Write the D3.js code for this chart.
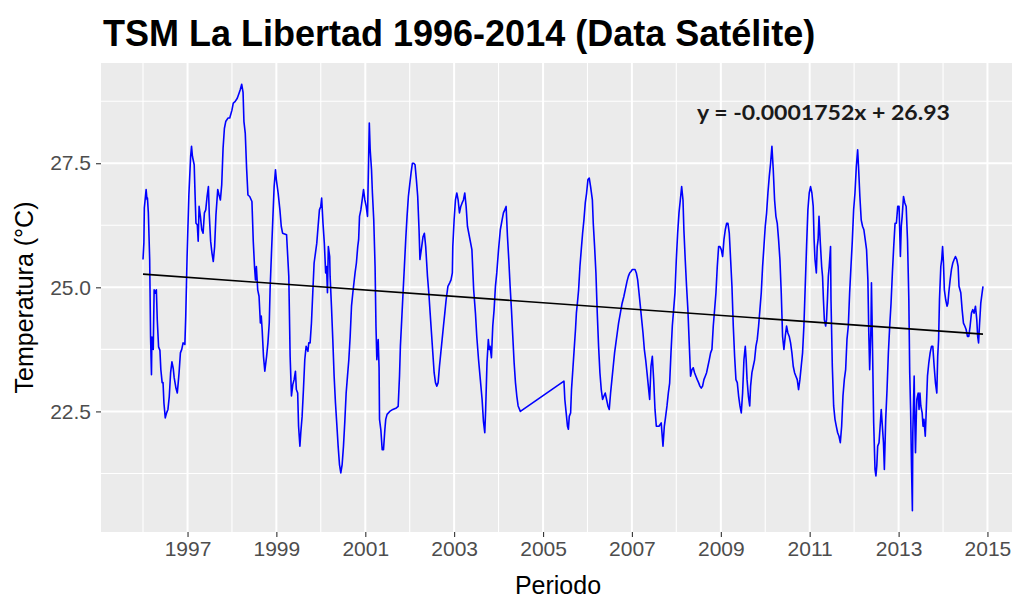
<!DOCTYPE html>
<html>
<head>
<meta charset="utf-8">
<script src="https://cdn.jsdelivr.net/npm/d3@7.9.0/dist/d3.min.js"></script>
<style>
  body { margin: 0; background: #fff; }
  svg { display: block; }
</style>
</head>
<body>
<svg id="chart" width="1012" height="598"></svg>
<script>
const periodo = [
  1996.00, 1996.02, 1996.03, 1996.07, 1996.09, 1996.10, 1996.12, 1996.15, 1996.17, 1996.19, 1996.20, 1996.23,
  1996.25, 1996.28, 1996.30, 1996.32, 1996.35, 1996.38, 1996.40, 1996.43, 1996.45, 1996.47, 1996.50, 1996.53,
  1996.56, 1996.59, 1996.62, 1996.65, 1996.68, 1996.70, 1996.74, 1996.77, 1996.79, 1996.81, 1996.84, 1996.87,
  1996.90, 1996.94, 1996.96, 1996.99,
  1997.03, 1997.07, 1997.09, 1997.11, 1997.15, 1997.17, 1997.19, 1997.22, 1997.24, 1997.26, 1997.29, 1997.32,
  1997.35, 1997.38, 1997.41, 1997.44, 1997.47, 1997.49, 1997.52, 1997.55, 1997.58, 1997.61, 1997.64, 1997.68,
  1997.71, 1997.74, 1997.77, 1997.80, 1997.83, 1997.86, 1997.91, 1997.95,
  1998.00, 1998.03, 1998.07, 1998.12, 1998.16, 1998.19, 1998.22, 1998.25, 1998.27, 1998.30, 1998.33, 1998.36,
  1998.40, 1998.45, 1998.48, 1998.51, 1998.53, 1998.55, 1998.58, 1998.61, 1998.64, 1998.66, 1998.68, 1998.71,
  1998.74, 1998.78, 1998.81, 1998.84, 1998.86, 1998.89, 1998.92, 1998.95, 1998.98,
  1999.00, 1999.04, 1999.08, 1999.11, 1999.14, 1999.23, 1999.28, 1999.31, 1999.34, 1999.37, 1999.40, 1999.43,
  1999.45, 1999.48, 1999.50, 1999.53, 1999.55, 1999.58, 1999.61, 1999.64, 1999.67, 1999.71, 1999.73, 1999.76,
  1999.79, 1999.82, 1999.85, 1999.88, 1999.91, 1999.94, 1999.97,
  2000.00, 2000.02, 2000.05, 2000.08, 2000.11, 2000.13, 2000.15, 2000.17, 2000.20, 2000.21, 2000.24, 2000.27,
  2000.30, 2000.33, 2000.36, 2000.39, 2000.42, 2000.45, 2000.48, 2000.51, 2000.54, 2000.57, 2000.60, 2000.63,
  2000.66, 2000.69, 2000.72, 2000.77, 2000.80, 2000.83, 2000.85, 2000.87, 2000.90, 2000.93, 2000.96, 2000.99,
  2001.02, 2001.05, 2001.07, 2001.09, 2001.11, 2001.14, 2001.16, 2001.19, 2001.22, 2001.24, 2001.26, 2001.29,
  2001.31, 2001.32, 2001.35, 2001.38, 2001.41, 2001.44, 2001.46, 2001.49, 2001.55, 2001.62, 2001.70, 2001.74,
  2001.77, 2001.79, 2001.82, 2001.85, 2001.88, 2001.91, 2001.94, 2001.97,
  2002.00, 2002.03, 2002.06, 2002.09, 2002.12, 2002.15, 2002.18, 2002.21, 2002.23, 2002.25, 2002.27, 2002.30,
  2002.33, 2002.36, 2002.38, 2002.40, 2002.43, 2002.46, 2002.49, 2002.52, 2002.55, 2002.58, 2002.61, 2002.64,
  2002.67, 2002.70, 2002.73, 2002.76, 2002.79, 2002.82, 2002.86, 2002.90, 2002.93, 2002.96, 2002.97,
  2003.00, 2003.03, 2003.06, 2003.09, 2003.12, 2003.15, 2003.18, 2003.21, 2003.24, 2003.27, 2003.30, 2003.40,
  2003.44, 2003.48, 2003.51, 2003.55, 2003.59, 2003.63, 2003.66, 2003.69, 2003.71, 2003.74, 2003.77, 2003.79,
  2003.81, 2003.84, 2003.87, 2003.90, 2003.93, 2003.96,
  2004.00, 2004.04, 2004.08, 2004.11, 2004.14, 2004.17, 2004.20, 2004.23, 2004.26, 2004.29, 2004.32, 2004.35,
  2004.38, 2004.41, 2004.44, 2004.49,
  2005.47, 2005.49, 2005.52, 2005.55, 2005.57, 2005.59, 2005.62, 2005.64, 2005.67, 2005.70, 2005.73, 2005.75,
  2005.78, 2005.80, 2005.83, 2005.86, 2005.89, 2005.92, 2005.95, 2005.98,
  2006.01, 2006.04, 2006.07, 2006.11, 2006.13, 2006.16, 2006.19, 2006.22, 2006.25, 2006.28, 2006.31, 2006.34,
  2006.37, 2006.40, 2006.43, 2006.46, 2006.49, 2006.52, 2006.55, 2006.58, 2006.61, 2006.64, 2006.67, 2006.70,
  2006.74, 2006.78, 2006.82, 2006.85, 2006.89, 2006.92, 2006.95, 2006.98,
  2007.01, 2007.07, 2007.10, 2007.13, 2007.16, 2007.19, 2007.22, 2007.25, 2007.28, 2007.31, 2007.34, 2007.37,
  2007.40, 2007.43, 2007.46, 2007.49, 2007.52, 2007.55, 2007.61, 2007.66, 2007.70, 2007.73, 2007.76, 2007.79,
  2007.82, 2007.85, 2007.88, 2007.91, 2007.94, 2007.97,
  2008.00, 2008.03, 2008.06, 2008.09, 2008.12, 2008.15, 2008.17, 2008.20, 2008.23, 2008.26, 2008.29, 2008.32,
  2008.35, 2008.38, 2008.41, 2008.44, 2008.47, 2008.50, 2008.53, 2008.56, 2008.59, 2008.62, 2008.65, 2008.68,
  2008.71, 2008.74, 2008.77, 2008.80, 2008.83, 2008.86, 2008.89, 2008.92, 2008.95, 2008.98,
  2009.01, 2009.04, 2009.07, 2009.10, 2009.13, 2009.16, 2009.19, 2009.22, 2009.25, 2009.28, 2009.31, 2009.34,
  2009.37, 2009.40, 2009.43, 2009.46, 2009.49, 2009.52, 2009.55, 2009.57, 2009.59, 2009.62, 2009.65, 2009.67,
  2009.70, 2009.73, 2009.76, 2009.79, 2009.82, 2009.85, 2009.88, 2009.91, 2009.94, 2009.97,
  2010.00, 2010.03, 2010.06, 2010.09, 2010.12, 2010.15, 2010.18, 2010.21, 2010.24, 2010.27, 2010.30, 2010.33,
  2010.36, 2010.39, 2010.42, 2010.45, 2010.48, 2010.51, 2010.54, 2010.57, 2010.60, 2010.63, 2010.66, 2010.69,
  2010.72, 2010.75, 2010.78, 2010.81, 2010.84, 2010.87, 2010.90, 2010.93, 2010.96, 2010.99,
  2011.02, 2011.05, 2011.08, 2011.10, 2011.12, 2011.15, 2011.17, 2011.19, 2011.21, 2011.24, 2011.27, 2011.29,
  2011.31, 2011.33, 2011.36, 2011.38, 2011.40, 2011.42, 2011.44, 2011.47, 2011.48, 2011.51, 2011.54, 2011.57,
  2011.60, 2011.63, 2011.66, 2011.69, 2011.72, 2011.75, 2011.78, 2011.81, 2011.84, 2011.87, 2011.90, 2011.93,
  2011.96, 2011.99,
  2012.02, 2012.05, 2012.08, 2012.10, 2012.13, 2012.16, 2012.19, 2012.22, 2012.25, 2012.28, 2012.31, 2012.33,
  2012.35, 2012.38, 2012.39, 2012.41, 2012.44, 2012.47, 2012.49, 2012.51, 2012.53, 2012.56, 2012.59, 2012.61,
  2012.63, 2012.66, 2012.68, 2012.71, 2012.74, 2012.77, 2012.80, 2012.83, 2012.86, 2012.89, 2012.92, 2012.95,
  2012.98,
  2013.01, 2013.04, 2013.06, 2013.08, 2013.11, 2013.14, 2013.17, 2013.20, 2013.23, 2013.25, 2013.27, 2013.29,
  2013.31, 2013.32, 2013.35, 2013.36, 2013.38, 2013.40, 2013.41, 2013.44, 2013.46, 2013.48, 2013.50, 2013.53,
  2013.55, 2013.57, 2013.60, 2013.62, 2013.65, 2013.68, 2013.71, 2013.74, 2013.77, 2013.80, 2013.83, 2013.86,
  2013.88, 2013.90, 2013.92, 2013.95, 2013.97, 2013.99,
  2014.01, 2014.03, 2014.06, 2014.09, 2014.11, 2014.13, 2014.16, 2014.19, 2014.22, 2014.25, 2014.28, 2014.31,
  2014.34, 2014.36, 2014.40, 2014.43, 2014.46, 2014.49, 2014.52, 2014.55, 2014.58, 2014.61, 2014.64, 2014.67,
  2014.70, 2014.73, 2014.76, 2014.78, 2014.80, 2014.82, 2014.85, 2014.88, 2014.90
];

const tsm = [
  25.56, 25.90, 26.60, 26.97, 26.77, 26.80, 26.50, 25.56, 24.00, 23.24, 24.00, 23.75,
  24.95, 24.88, 24.95, 24.35, 23.80, 23.73, 23.35, 23.08, 23.08, 22.67, 22.37, 22.47,
  22.54, 22.80, 23.28, 23.50, 23.36, 23.18, 22.97, 22.87, 23.07, 23.28, 23.68, 23.75,
  23.88, 23.85, 24.42, 25.62,
  26.86, 27.64, 27.84, 27.64, 27.47, 26.86, 26.29, 26.26, 25.93, 26.63, 26.43, 26.16,
  26.09, 26.50, 26.56, 26.83, 27.03, 26.46, 25.93, 25.69, 25.52, 25.82, 26.46, 26.97,
  26.86, 26.76, 27.07, 27.80, 28.20, 28.34, 28.41, 28.41,
  28.57, 28.71, 28.74, 28.81, 28.91, 28.99, 29.09, 28.93, 28.34, 28.10, 27.40, 26.86,
  26.83, 26.73, 25.93, 25.39, 25.15, 25.42, 24.95, 24.82, 24.28, 24.42, 24.15, 23.61,
  23.31, 23.61, 23.88, 24.28, 24.99, 25.69, 26.36, 27.03, 27.37,
  27.17, 26.90, 26.56, 26.23, 26.09, 26.06, 25.22, 23.61, 22.81, 23.04, 23.14, 23.31,
  22.94, 22.87, 22.20, 21.80, 22.07, 22.40, 22.94, 23.54, 23.81, 23.71, 23.88, 23.88,
  24.28, 24.89, 25.49, 25.69, 25.89, 26.23, 26.56,
  26.63, 26.80, 26.29, 25.89, 25.29, 25.42, 24.89, 25.82, 25.62, 25.22, 24.62, 23.95,
  23.21, 22.67, 22.24, 21.80, 21.43, 21.26, 21.43, 21.80, 22.30, 22.87, 23.21, 23.54,
  24.01, 24.62, 24.89, 25.29, 25.49, 25.82, 25.96, 26.43, 26.56, 26.76, 26.97, 26.76,
  26.63, 26.43, 27.37, 28.31, 27.77, 27.37, 26.90, 26.36, 25.42, 24.22, 23.54, 23.95,
  23.38, 22.34, 22.13, 21.73, 21.73, 22.13, 22.34, 22.44, 22.50, 22.54, 22.57, 22.60,
  23.21, 23.81, 24.35, 24.89, 25.42, 25.96, 26.43, 26.83,
  27.07, 27.30, 27.50, 27.50, 27.47, 27.17, 26.83, 26.16, 25.56, 25.69, 25.82, 26.02,
  26.09, 25.82, 25.52, 25.22, 24.89, 24.48, 24.08, 23.68, 23.28, 23.08, 23.01, 23.08,
  23.41, 23.68, 23.95, 24.22, 24.48, 24.75, 25.02, 25.09, 25.15, 25.29, 25.82,
  26.36, 26.76, 26.90, 26.76, 26.50, 26.63, 26.70, 26.76, 26.90, 26.63, 26.23, 25.76,
  24.95, 24.48, 24.01, 23.54, 23.14, 22.74, 22.30, 22.07, 22.54, 23.48, 23.95, 23.75,
  23.81, 23.58, 24.22, 24.55, 25.02, 25.29,
  25.76, 26.16, 26.36, 26.50, 26.56, 26.63, 26.03, 25.56, 25.02, 24.55, 24.01, 23.48,
  23.08, 22.81, 22.61, 22.50,
  23.11, 22.74, 22.47, 22.20, 22.14, 22.40, 22.47, 22.94, 23.34, 23.75, 24.15, 24.48,
  24.75, 24.95, 25.42, 25.76, 26.09, 26.36, 26.70, 26.90,
  27.17, 27.20, 27.03, 26.76, 26.29, 25.82, 25.29, 24.48, 23.81, 23.28, 22.94, 22.74,
  22.81, 22.87, 22.74, 22.61, 22.54, 22.87, 23.14, 23.41, 23.68, 23.88, 24.08, 24.28,
  24.48, 24.68, 24.82, 24.95, 25.12, 25.22, 25.29, 25.32,
  25.36, 25.36, 25.29, 25.15, 24.89, 24.62, 24.35, 24.08, 23.75, 23.54, 23.28, 23.01,
  22.74, 23.41, 23.61, 23.14, 22.54, 22.20, 22.20, 22.27, 21.80, 22.20, 22.40, 22.61,
  22.87, 23.07, 23.68, 24.22, 24.55, 24.89,
  25.56, 26.09, 26.50, 26.76, 27.03, 26.76, 26.16, 25.56, 25.02, 24.55, 23.88, 23.21,
  23.34, 23.38, 23.28, 23.21, 23.14, 23.08, 23.01, 22.97, 23.01, 23.14, 23.21, 23.28,
  23.41, 23.54, 23.68, 23.75, 24.22, 24.55, 24.89, 25.42, 25.82, 25.82,
  25.76, 25.62, 25.96, 26.16, 26.29, 26.29, 26.09, 25.56, 25.02, 24.22, 23.61, 23.14,
  23.08, 22.81, 22.61, 22.47, 22.87, 23.54, 23.81, 23.54, 23.14, 22.81, 22.61, 23.01,
  23.28, 23.41, 23.54, 23.81, 23.95, 24.22, 24.55, 24.89, 25.42, 25.82,
  26.23, 26.50, 26.90, 27.23, 27.50, 27.84, 27.37, 26.76, 26.43, 26.29, 25.96, 25.56,
  24.89, 24.01, 23.75, 24.01, 24.22, 24.08, 24.01, 23.88, 23.68, 23.41, 23.28, 23.21,
  23.14, 22.94, 23.14, 23.41, 23.68, 24.22, 25.02, 25.82, 26.56, 26.90,
  27.03, 26.90, 26.63, 25.96, 25.56, 25.29, 25.82, 25.96, 26.43, 25.89, 25.42, 25.22,
  24.75, 24.35, 24.22, 24.35, 24.75, 25.22, 25.42, 25.82, 24.75, 23.41, 22.61, 22.34,
  22.20, 22.07, 22.00, 21.87, 22.20, 22.81, 23.14, 23.34, 23.95, 24.22, 24.89, 25.42,
  25.93, 26.56,
  26.90, 27.43, 27.77, 27.43, 26.83, 26.36, 26.23, 26.16, 25.96, 25.76, 25.15, 24.08,
  23.34, 24.22, 25.09, 24.01, 22.27, 21.33, 21.20, 21.40, 21.80, 21.87, 22.27, 22.54,
  22.27, 21.87, 21.33, 22.34, 22.94, 23.68, 24.22, 24.68, 25.29, 25.82, 26.29, 26.29,
  26.63,
  26.63, 25.62, 26.23, 26.43, 26.83, 26.70, 26.63, 25.96, 24.75, 23.28, 22.54, 21.40,
  20.50, 22.07, 23.21, 22.54, 21.67, 22.47, 22.74, 22.87, 22.54, 22.87, 22.61, 22.47,
  22.20, 22.34, 22.00, 22.47, 23.21, 23.48, 23.68, 23.81, 23.81, 23.41, 23.07, 22.87,
  23.61, 23.95, 24.75, 25.42, 25.56, 25.82,
  25.49, 24.95, 24.75, 24.62, 24.68, 24.89, 25.15, 25.36, 25.49, 25.56, 25.62, 25.56,
  25.42, 25.02, 24.89, 24.55, 24.28, 24.22, 24.15, 24.01, 24.01, 24.22, 24.48, 24.55,
  24.48, 24.62, 24.35, 24.01, 23.88, 24.22, 24.68, 24.89, 25.02
];

// axis breaks
const xMajor = [1997, 1999, 2001, 2003, 2005, 2007, 2009, 2011, 2013, 2015];
const xMinor = [1996, 1998, 2000, 2002, 2004, 2006, 2008, 2010, 2012, 2014];
const yMajor = [22.5, 25.0, 27.5];
const yMinor = [21.25, 23.75, 26.25, 28.75];

// linear fit printed on the chart (x = days since 1970-01-01)
const trendSlope = -0.0001752;
const trendIntercept = 26.93;

const titulo = 'TSM La Libertad 1996-2014 (Data Satélite)';
const xTitulo = 'Periodo';
const yTitulo = 'Temperatura (°C)';
const ecuacion = 'y = -0.0001752x + 26.93';

function toDate(y) {
  let yr = Math.floor(y);
  let s = Date.UTC(yr, 0, 1), e = Date.UTC(yr + 1, 0, 1);
  return new Date(s + (y - yr) * (e - s));
}

const data = periodo.map((p, i) => ({ date: toDate(p), value: tsm[i] }));

const panel = { left: 101, right: 1025, top: 63, bottom: 532 };

// ggplot-style 5% expansion on both axes
let tExt = d3.extent(data, d => +d.date);
let tPad = (tExt[1] - tExt[0]) * 0.05;
let x = d3.scaleUtc()
  .domain([new Date(tExt[0] - tPad), new Date(tExt[1] + tPad)])
  .range([panel.left, panel.right]);

let vExt = d3.extent(tsm);
let vPad = (vExt[1] - vExt[0]) * 0.05;
let y = d3.scaleLinear()
  .domain([vExt[0] - vPad, vExt[1] + vPad])
  .range([panel.bottom, panel.top]);

const svg = d3.select('#chart');

svg.append('rect')
  .attr('x', panel.left).attr('y', panel.top)
  .attr('width', panel.right - panel.left).attr('height', panel.bottom - panel.top)
  .attr('fill', '#EBEBEB');

let grid = svg.append('g');
// minor grid
grid.selectAll('.vmin').data(xMinor).join('line')
  .attr('x1', d => x(toDate(d))).attr('x2', d => x(toDate(d)))
  .attr('y1', panel.top).attr('y2', panel.bottom)
  .attr('stroke', '#fff').attr('stroke-width', 1.1);
grid.selectAll('.hmin').data(yMinor).join('line')
  .attr('x1', panel.left).attr('x2', panel.right)
  .attr('y1', d => y(d)).attr('y2', d => y(d))
  .attr('stroke', '#fff').attr('stroke-width', 1.1);
// major grid
grid.selectAll('.vmaj').data(xMajor).join('line')
  .attr('x1', d => x(toDate(d))).attr('x2', d => x(toDate(d)))
  .attr('y1', panel.top).attr('y2', panel.bottom)
  .attr('stroke', '#fff').attr('stroke-width', 2);
grid.selectAll('.hmaj').data(yMajor).join('line')
  .attr('x1', panel.left).attr('x2', panel.right)
  .attr('y1', d => y(d)).attr('y2', d => y(d))
  .attr('stroke', '#fff').attr('stroke-width', 2);

// series
let line = d3.line().x(d => x(d.date)).y(d => y(d.value));
svg.append('path')
  .datum(data)
  .attr('d', line)
  .attr('fill', 'none')
  .attr('stroke', '#0000FF')
  .attr('stroke-width', 1.6)
  .attr('stroke-linejoin', 'round');

// trend line across the data range
let dayMs = 86400000;
let trend = [data[0].date, data[data.length - 1].date]
  .map(dt => ({ date: dt, value: trendSlope * (+dt / dayMs) + trendIntercept }));
svg.append('path')
  .datum(trend)
  .attr('d', line)
  .attr('fill', 'none')
  .attr('stroke', '#000')
  .attr('stroke-width', 1.6);

// axes
let xAxis = d3.axisBottom(x)
  .tickValues(xMajor.map(toDate))
  .tickFormat(d3.utcFormat('%Y'))
  .tickSize(5).tickPadding(4);
let gx = svg.append('g').attr('transform', `translate(0,${panel.bottom})`).call(xAxis);
gx.select('.domain').remove();
gx.selectAll('line').attr('stroke', '#333').attr('stroke-width', 1.1);
gx.selectAll('text')
  .attr('fill', '#4D4D4D')
  .style('font-family', '"Liberation Sans", Arial, sans-serif')
  .style('font-size', '21px');

let yAxis = d3.axisLeft(y)
  .tickValues(yMajor)
  .tickFormat(d3.format('.1f'))
  .tickSize(5).tickPadding(5);
let gy = svg.append('g').attr('transform', `translate(${panel.left},0)`).call(yAxis);
gy.select('.domain').remove();
gy.selectAll('line').attr('stroke', '#333').attr('stroke-width', 1.1);
gy.selectAll('text')
  .attr('fill', '#4D4D4D')
  .style('font-family', '"Liberation Sans", Arial, sans-serif')
  .style('font-size', '21px');

// titles
svg.append('text')
  .attr('x', 103).attr('y', 46)
  .style('font-family', '"Liberation Sans", Arial, sans-serif')
  .style('font-size', '36px').style('font-weight', 'bold')
  .attr('fill', '#000')
  .text(titulo);

svg.append('text')
  .attr('x', 558).attr('y', 594)
  .attr('text-anchor', 'middle')
  .style('font-family', '"Liberation Sans", Arial, sans-serif')
  .style('font-size', '25px')
  .attr('fill', '#000')
  .text(xTitulo);

svg.append('text')
  .attr('transform', `translate(33,${(panel.top + panel.bottom) / 2}) rotate(-90)`)
  .attr('text-anchor', 'middle')
  .style('font-family', '"Liberation Sans", Arial, sans-serif')
  .style('font-size', '25px')
  .attr('fill', '#000')
  .text(yTitulo);

// regression label
svg.append('text')
  .attr('x', 697).attr('y', 120)
  .attr('textLength', 253).attr('lengthAdjust', 'spacingAndGlyphs')
  .style('font-family', 'Lato, "Open Sans", sans-serif')
  .style('font-size', '21px').style('font-weight', 'bold')
  .attr('fill', '#1a1a1a')
  .text(ecuacion);
</script>
</body>
</html>
